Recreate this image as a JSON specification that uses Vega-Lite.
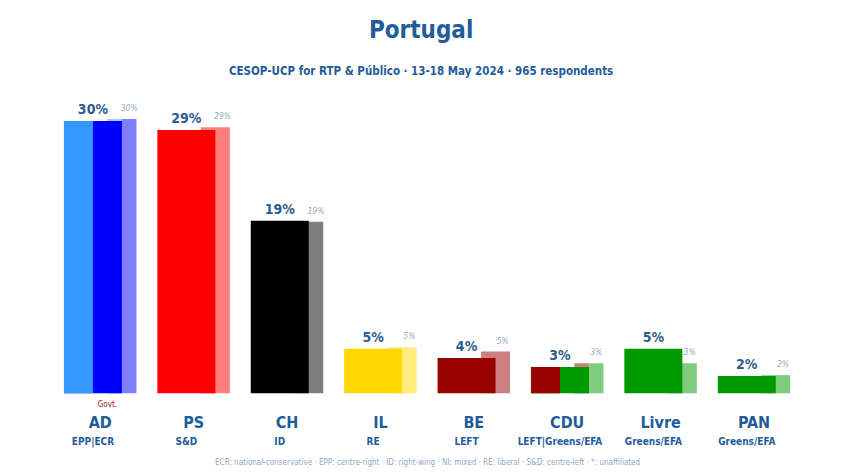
{
  "$schema": "https://vega.github.io/schema/vega-lite/v6.json",
  "autosize": "none",
  "width": 747.2,
  "height": 317.8,
  "padding": {"left": 53.5, "top": 75.5, "right": 49.3, "bottom": 79.7},
  "background": "white",
  "config": {
    "view": {"stroke": null},
    "font": "DejaVu Sans Condensed, Liberation Sans Narrow, Roboto"
  },
  "title": {
    "text": "Portugal",
    "subtitle": "CESOP-UCP for RTP & Público · 13-18 May 2024 · 965 respondents",
    "anchor": "middle",
    "fontSize": 24,
    "fontWeight": "bold",
    "color": "#1F5C99",
    "subtitleFontSize": 11.5,
    "subtitleFontWeight": "bold",
    "subtitleColor": "#1F5C99",
    "subtitlePadding": 23,
    "offset": -2,
    "dx": -6
  },
  "data": {
    "values": [
      {"party": "AD", "g1": "EPP", "g2": "ECR", "groups": "EPP|ECR", "poll": 30.0, "result": 30.2, "note": "Govt."},
      {"party": "PS", "g1": "S&D", "g2": "S&D", "groups": "S&D", "poll": 29.0, "result": 29.3, "note": ""},
      {"party": "CH", "g1": "ID", "g2": "ID", "groups": "ID", "poll": 19.0, "result": 18.9, "note": ""},
      {"party": "IL", "g1": "RE", "g2": "RE", "groups": "RE", "poll": 4.9, "result": 5.07, "note": ""},
      {"party": "BE", "g1": "LEFT", "g2": "LEFT", "groups": "LEFT", "poll": 3.9, "result": 4.6, "note": ""},
      {"party": "CDU", "g1": "LEFT", "g2": "Greens/EFA", "groups": "LEFT|Greens/EFA", "poll": 2.9, "result": 3.3, "note": ""},
      {"party": "Livre", "g1": "Greens/EFA", "g2": "Greens/EFA", "groups": "Greens/EFA", "poll": 4.9, "result": 3.3, "note": ""},
      {"party": "PAN", "g1": "Greens/EFA", "g2": "Greens/EFA", "groups": "Greens/EFA", "poll": 1.9, "result": 2.0, "note": ""}
    ]
  },
  "transform": [
    {"calculate": "format(datum.poll, '.0f') + '%'", "as": "pollLabel"},
    {"calculate": "format(datum.result, '.0f') + '%'", "as": "resultLabel"}
  ],
  "encoding": {
    "x": {
      "field": "party",
      "type": "nominal",
      "sort": null,
      "scale": {"paddingInner": 0.224, "paddingOuter": 0.112},
      "axis": {
        "orient": "bottom",
        "bandPosition": 0.4,
        "domain": false,
        "ticks": false,
        "grid": false,
        "labelAngle": 0,
        "labelFontSize": 16,
        "labelFontWeight": "bold",
        "labelColor": "#1F5C99",
        "labelPadding": 21,
        "title": "ECR: national-conservative · EPP: centre-right · ID: right-wing · NI: mixed · RE: liberal · S&D: centre-left · *: unaffiliated",
        "titleFontSize": 8,
        "titleFontWeight": "normal",
        "titleColor": "#8FA8C8",
        "titlePadding": 28
      }
    }
  },
  "layer": [
    {
      "mark": {"type": "bar", "opacity": 0.5},
      "encoding": {
        "x": {"field": "party", "type": "nominal", "sort": null, "bandPosition": 0.6},
        "x2": {"field": "party", "bandPosition": 1.0},
        "y": {"field": "result", "type": "quantitative", "stack": null, "scale": {"domain": [0, 35], "nice": false}, "axis": null},
        "y2": {"datum": 0},
        "color": {"field": "g2", "type": "nominal", "legend": null, "scale": {"domain": ["EPP", "ECR", "S&D", "ID", "RE", "LEFT", "Greens/EFA"], "range": ["#3399FF", "#0000FF", "#FF0000", "#000000", "#FFD700", "#990000", "#009900"]}}
      }
    },
    {
      "transform": [{"filter": "datum.g1 != datum.g2"}],
      "mark": {"type": "bar", "color": "white"},
      "encoding": {
        "x": {"field": "party", "type": "nominal", "sort": null, "bandPosition": 0.6},
        "x2": {"field": "party", "bandPosition": 0.8},
        "y": {"field": "result", "type": "quantitative", "stack": null},
        "y2": {"datum": 0}
      }
    },
    {
      "transform": [{"filter": "datum.g1 != datum.g2"}],
      "mark": {"type": "bar", "opacity": 0.5},
      "encoding": {
        "x": {"field": "party", "type": "nominal", "sort": null, "bandPosition": 0.6},
        "x2": {"field": "party", "bandPosition": 0.8},
        "y": {"field": "result", "type": "quantitative", "stack": null},
        "y2": {"datum": 0},
        "color": {"field": "g1", "type": "nominal", "legend": null}
      }
    },
    {
      "mark": {"type": "bar"},
      "encoding": {
        "x": {"field": "party", "type": "nominal", "sort": null, "bandPosition": 0},
        "x2": {"field": "party", "bandPosition": 0.8},
        "y": {"field": "poll", "type": "quantitative", "stack": null},
        "y2": {"datum": 0},
        "color": {"field": "g2", "type": "nominal", "legend": null}
      }
    },
    {
      "transform": [{"filter": "datum.g1 != datum.g2"}],
      "mark": {"type": "bar"},
      "encoding": {
        "x": {"field": "party", "type": "nominal", "sort": null, "bandPosition": 0},
        "x2": {"field": "party", "bandPosition": 0.4},
        "y": {"field": "poll", "type": "quantitative", "stack": null},
        "y2": {"datum": 0},
        "color": {"field": "g1", "type": "nominal", "legend": null}
      }
    },
    {
      "mark": {"type": "text", "baseline": "bottom", "dy": -4, "fontSize": 14, "fontWeight": "bold", "color": "#2B5C8E"},
      "encoding": {
        "x": {"field": "party", "type": "nominal", "sort": null, "bandPosition": 0.4},
        "y": {"field": "poll", "type": "quantitative"},
        "text": {"field": "pollLabel"}
      }
    },
    {
      "mark": {"type": "text", "baseline": "bottom", "align": "center", "dy": -6, "fontSize": 8.5, "fontStyle": "italic", "color": "#8FAAC9"},
      "encoding": {
        "x": {"field": "party", "type": "nominal", "sort": null, "bandPosition": 0.9},
        "y": {"field": "result", "type": "quantitative"},
        "text": {"field": "resultLabel"}
      }
    },
    {
      "mark": {"type": "text", "baseline": "alphabetic", "dy": 52, "fontSize": 10, "fontWeight": "bold", "color": "#1F5C99"},
      "encoding": {
        "x": {"field": "party", "type": "nominal", "sort": null, "bandPosition": 0.4},
        "y": {"datum": 0, "type": "quantitative"},
        "text": {"field": "groups"}
      }
    },
    {
      "mark": {"type": "text", "baseline": "alphabetic", "dy": 14, "fontSize": 8, "color": "#9B2020"},
      "encoding": {
        "x": {"field": "party", "type": "nominal", "sort": null, "bandPosition": 0.6},
        "y": {"datum": 0, "type": "quantitative"},
        "text": {"field": "note"}
      }
    }
  ]
}
